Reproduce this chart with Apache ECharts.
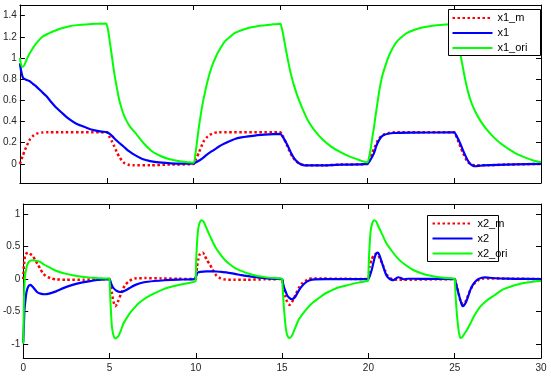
<!DOCTYPE html>
<html><head><meta charset="utf-8">
<script src="https://cdn.jsdelivr.net/npm/echarts@6/dist/echarts.min.js"></script>
<style>html,body{margin:0;padding:0;background:#fff}#c{width:551px;height:377px}</style>
</head><body><div id="c"></div>
<script>
// ---- tick labels ----
const xTicks = [0, 5, 10, 15, 20, 25, 30];
const yTicksTop = [0, 0.2, 0.4, 0.6, 0.8, 1, 1.2, 1.4];
const yTicksBottom = [-1, -0.5, 0, 0.5, 1];
const namesTop = ['x1_m', 'x1', 'x1_ori'];
const namesBottom = ['x2_m', 'x2', 'x2_ori'];

// ---- series values [t, value] ----
const x1_m = [[0,0],[0.15,0.07],[0.3,0.135],[0.57,0.23],[0.8,0.27],[1.0,0.288],[1.3,0.297],[1.6,0.3],[5,0.3],[5.14,0.26],[5.29,0.215],[5.43,0.166],[5.57,0.115],[5.71,0.07],[5.86,0.035],[6.0,0.01],[6.25,-0.008],[6.5,-0.013],[7.5,-0.013],[8.5,-0.006],[10,0],
 [10.15,0.05],[10.3,0.105],[10.57,0.21],[10.8,0.258],[10.95,0.276],[11.2,0.293],[11.45,0.3],[15,0.3],[15.1,0.275],[15.23,0.23],[15.38,0.175],[15.52,0.12],[15.7,0.065],[15.9,0.025],[16.1,0.002],[16.4,-0.013],[17.5,-0.013],[18.5,-0.006],[20,0],
 [20.15,0.05],[20.3,0.11],[20.6,0.22],[20.8,0.26],[21.0,0.28],[21.25,0.293],[21.5,0.3],[25,0.3],[25.1,0.27],[25.24,0.21],[25.38,0.155],[25.52,0.1],[25.66,0.05],[25.8,0.015],[26,-0.005],[26.2,-0.013],[27,-0.013],[28,-0.006],[30,0]];
const x1 = [[0,0.95],[0.08,0.87],[0.19,0.81],[0.35,0.795],[0.57,0.78],[0.75,0.755],[0.95,0.73],[1.2,0.69],[1.52,0.64],[1.8,0.585],[2.1,0.53],[2.5,0.47],[2.86,0.42],[3.25,0.38],[3.62,0.355],[4.0,0.33],[4.38,0.314],[4.7,0.305],[5,0.3],[5.15,0.285],[5.33,0.26],[5.5,0.23],[5.71,0.2],[6.0,0.16],[6.28,0.12],[6.6,0.085],[7.05,0.047],[7.5,0.027],[8,0.015],[9.14,0.003],[9.5,0.003],[10,0.005],
 [10.2,0.02],[10.47,0.047],[10.75,0.085],[11.05,0.12],[11.35,0.152],[11.62,0.18],[12,0.21],[12.38,0.236],[12.75,0.25],[13.14,0.26],[13.6,0.27],[14.1,0.276],[14.6,0.281],[15,0.283],[15.15,0.25],[15.33,0.2],[15.48,0.15],[15.62,0.1],[15.8,0.05],[16,0.015],[16.2,-0.005],[16.4,-0.013],[17.5,-0.013],[18.5,-0.007],[20,0],
 [20.15,0.03],[20.38,0.1],[20.52,0.17],[20.66,0.22],[20.8,0.255],[20.95,0.274],[21.2,0.285],[21.5,0.292],[22.5,0.295],[25,0.298],[25.15,0.26],[25.33,0.2],[25.48,0.14],[25.62,0.088],[25.76,0.04],[25.9,0.005],[26.05,-0.015],[26.24,-0.022],[26.45,-0.018],[26.66,-0.014],[27.5,-0.008],[28.5,-0.004],[30,0]];
const x1_ori = [[0,1.0],[0.06,0.94],[0.15,0.917],[0.25,0.93],[0.47,1.015],[0.7,1.08],[0.95,1.14],[1.3,1.2],[1.9,1.25],[2.4,1.28],[2.86,1.30],[3.3,1.31],[3.8,1.317],[4.4,1.322],[4.95,1.325],[5.03,1.3],[5.1,1.24],[5.24,1.08],[5.43,0.86],[5.57,0.73],[5.71,0.61],[5.9,0.5],[6.1,0.418],[6.35,0.35],[6.66,0.29],[7.1,0.2],[7.6,0.12],[8.1,0.075],[8.57,0.047],[9.2,0.025],[10,0.012],
 [10.1,0.09],[10.19,0.2],[10.28,0.32],[10.38,0.43],[10.5,0.55],[10.66,0.68],[10.85,0.81],[11.05,0.92],[11.25,1.0],[11.43,1.06],[11.8,1.157],[12.1,1.2],[12.38,1.236],[12.75,1.262],[13.14,1.283],[13.6,1.298],[14.1,1.308],[14.5,1.316],[15,1.324],
 [15.06,1.29],[15.14,1.236],[15.28,1.11],[15.43,0.98],[15.6,0.85],[15.8,0.73],[16.05,0.61],[16.38,0.48],[16.65,0.39],[16.95,0.32],[17.4,0.235],[17.9,0.166],[18.4,0.115],[18.86,0.078],[19.4,0.045],[20,0.015],
 [20.1,0.06],[20.2,0.15],[20.3,0.26],[20.38,0.34],[20.47,0.45],[20.57,0.56],[20.7,0.7],[20.86,0.83],[21.05,0.93],[21.23,1.015],[21.45,1.09],[21.71,1.157],[22,1.2],[22.29,1.236],[22.65,1.262],[23.05,1.283],[23.5,1.297],[24,1.308],[24.5,1.315],[25,1.32],
 [25.06,1.28],[25.15,1.2],[25.33,1.06],[25.48,0.93],[25.62,0.81],[25.8,0.68],[26,0.575],[26.2,0.5],[26.47,0.418],[26.8,0.34],[27.23,0.26],[27.7,0.19],[28.19,0.135],[28.65,0.09],[29.14,0.057],[29.6,0.03],[30,0.015]];

const x2_m = [[0,0],[0.04,0.2],[0.1,0.35],[0.2,0.4],[0.29,0.41],[0.4,0.39],[0.57,0.35],[0.7,0.29],[0.86,0.22],[1.0,0.15],[1.14,0.09],[1.3,0.05],[1.43,0.03],[1.65,0.008],[1.9,-0.005],[2.5,-0.012],[3.5,-0.01],[4.5,-0.003],[5,0],
 [5.05,-0.07],[5.14,-0.22],[5.23,-0.35],[5.33,-0.42],[5.43,-0.39],[5.52,-0.33],[5.66,-0.23],[5.8,-0.14],[5.95,-0.08],[6.1,-0.04],[6.3,-0.005],[6.48,0.01],[7.05,0.015],[8,0.01],[9,0.004],[10,0],
 [10.03,0.08],[10.07,0.19],[10.14,0.3],[10.2,0.37],[10.4,0.41],[10.52,0.36],[10.65,0.29],[10.8,0.23],[10.93,0.17],[11.05,0.11],[11.2,0.05],[11.4,0.015],[11.6,-0.005],[12.2,-0.012],[13,-0.01],[14,-0.004],[15,0],
 [15.04,-0.07],[15.1,-0.17],[15.2,-0.28],[15.29,-0.35],[15.42,-0.4],[15.56,-0.36],[15.68,-0.3],[15.82,-0.22],[15.96,-0.14],[16.15,-0.07],[16.34,-0.03],[16.52,0.0],[16.72,0.01],[17.3,0.008],[18.5,0.004],[20,0],
 [20.03,0.08],[20.07,0.19],[20.18,0.3],[20.32,0.37],[20.45,0.39],[20.55,0.38],[20.68,0.31],[20.8,0.24],[20.95,0.14],[21.09,0.06],[21.25,0.015],[21.4,-0.005],[21.8,-0.012],[22.5,-0.01],[24,-0.003],[25,0],
 [25.05,-0.05],[25.14,-0.12],[25.24,-0.24],[25.33,-0.33],[25.49,-0.39],[25.6,-0.36],[25.71,-0.3],[25.85,-0.2],[26,-0.12],[26.2,-0.05],[26.38,-0.015],[26.6,0.005],[27,0.01],[28,0.006],[30,0]];
const x2 = [[0,-0.98],[0.04,-0.7],[0.07,-0.48],[0.13,-0.32],[0.19,-0.2],[0.3,-0.11],[0.42,-0.09],[0.55,-0.12],[0.8,-0.2],[1.0,-0.225],[1.24,-0.235],[1.5,-0.225],[1.9,-0.19],[2.32,-0.14],[2.86,-0.09],[3.3,-0.06],[3.8,-0.035],[4.3,-0.015],[4.76,-0.005],[5,0],
 [5.07,-0.05],[5.14,-0.1],[5.23,-0.14],[5.4,-0.18],[5.6,-0.2],[5.8,-0.19],[6.0,-0.165],[6.25,-0.125],[6.5,-0.09],[7.0,-0.05],[7.6,-0.03],[8.2,-0.018],[9,-0.008],[9.9,0],
 [10.03,0.05],[10.07,0.09],[10.15,0.105],[10.26,0.11],[10.6,0.118],[10.93,0.12],[11.2,0.117],[11.5,0.11],[11.9,0.095],[12.26,0.08],[12.65,0.06],[13.03,0.045],[13.6,0.025],[14.1,0.012],[14.6,0.004],[15,0],
 [15.05,-0.06],[15.1,-0.12],[15.2,-0.19],[15.29,-0.25],[15.42,-0.29],[15.55,-0.31],[15.66,-0.3],[15.77,-0.27],[15.9,-0.21],[16.06,-0.14],[16.25,-0.08],[16.43,-0.04],[16.65,-0.015],[16.9,-0.005],[17.5,0.0],[20,0],
 [20.08,0.05],[20.19,0.14],[20.28,0.24],[20.38,0.35],[20.47,0.4],[20.55,0.41],[20.64,0.37],[20.74,0.29],[20.86,0.19],[20.99,0.09],[21.1,0.035],[21.22,0.005],[21.35,-0.012],[21.46,-0.015],[21.6,0.01],[21.72,0.028],[21.85,0.02],[22.03,-0.003],[22.3,0.005],[23,0.004],[24,0.002],[25,0],
 [25.05,-0.05],[25.14,-0.14],[25.24,-0.24],[25.33,-0.33],[25.43,-0.41],[25.49,-0.42],[25.58,-0.39],[25.68,-0.34],[25.8,-0.25],[25.9,-0.17],[26.05,-0.09],[26.19,-0.04],[26.38,0.0],[26.57,0.02],[26.75,0.026],[27,0.02],[27.6,0.01],[28.5,0.004],[30,0]];
const x2_ori = [[0,-1.0],[0.02,-0.75],[0.04,-0.33],[0.07,-0.1],[0.1,0.04],[0.16,0.14],[0.23,0.22],[0.35,0.27],[0.51,0.29],[0.7,0.285],[0.95,0.27],[1.2,0.225],[1.52,0.18],[1.8,0.14],[2.1,0.11],[2.5,0.08],[2.86,0.06],[3.3,0.04],[3.8,0.026],[4.3,0.016],[4.7,0.01],[4.95,0.008],
 [5.0,0.005],[5.05,-0.33],[5.1,-0.58],[5.14,-0.74],[5.22,-0.86],[5.33,-0.92],[5.45,-0.9],[5.52,-0.88],[5.65,-0.8],[5.8,-0.69],[6.0,-0.6],[6.2,-0.52],[6.42,-0.45],[6.66,-0.38],[6.95,-0.32],[7.23,-0.27],[7.6,-0.22],[8.0,-0.17],[8.57,-0.12],[9.2,-0.08],[9.6,-0.06],[9.94,-0.04],
 [9.99,-0.03],[10.02,0.29],[10.07,0.55],[10.13,0.76],[10.22,0.87],[10.32,0.91],[10.45,0.89],[10.6,0.8],[10.74,0.71],[10.9,0.62],[11.12,0.5],[11.4,0.39],[11.7,0.29],[12.0,0.22],[12.3,0.165],[12.6,0.13],[13.03,0.085],[13.5,0.05],[14.1,0.026],[14.6,0.015],[14.95,0.01],
 [15.0,0.005],[15.05,-0.22],[15.1,-0.43],[15.16,-0.62],[15.23,-0.79],[15.3,-0.87],[15.39,-0.91],[15.5,-0.9],[15.58,-0.87],[15.75,-0.76],[15.96,-0.63],[16.25,-0.52],[16.53,-0.43],[16.8,-0.36],[17.1,-0.3],[17.4,-0.24],[17.67,-0.2],[17.9,-0.17],[18.25,-0.13],[18.86,-0.09],[19.4,-0.055],[19.95,-0.03],
 [19.99,-0.025],[20.02,0.25],[20.07,0.52],[20.13,0.74],[20.22,0.86],[20.33,0.91],[20.45,0.89],[20.6,0.8],[20.8,0.69],[21.05,0.55],[21.37,0.43],[21.7,0.32],[22.13,0.22],[22.6,0.14],[23.1,0.085],[23.6,0.05],[24.2,0.025],[24.9,0.01],
 [25.0,0.005],[25.05,-0.25],[25.1,-0.45],[25.14,-0.58],[25.22,-0.78],[25.33,-0.91],[25.42,-0.9],[25.5,-0.87],[25.7,-0.79],[25.9,-0.69],[26.15,-0.56],[26.47,-0.43],[26.86,-0.33],[27.3,-0.25],[27.8,-0.16],[28.3,-0.11],[28.75,-0.077],[29.3,-0.05],[29.9,-0.03],[30,-0.03]];

// ---- chart ----
const FONT = '"Liberation Sans", Arial, sans-serif';
const chart = echarts.init(document.getElementById('c'), null, {renderer: 'canvas'});

function xAx(gi, pos, showLabel) {
  return {type: 'value', gridIndex: gi, position: pos, min: 0, max: 30,
    axisLine: {show: true, onZero: false, lineStyle: {color: '#000', width: 1}},
    axisTick: {show: true, inside: true, length: 5, customValues: xTicks, lineStyle: {color: '#000'}},
    axisLabel: {show: showLabel, margin: 5, fontSize: 10, color: '#262626', fontFamily: FONT, customValues: xTicks},
    splitLine: {show: false}};
}
function yAx(gi, pos, min, max, ticks, showLabel) {
  return {type: 'value', gridIndex: gi, position: pos, min: min, max: max,
    axisLine: {show: true, onZero: false, lineStyle: {color: '#000', width: 1}},
    axisTick: {show: true, inside: true, length: 5, customValues: ticks, lineStyle: {color: '#000'}},
    axisLabel: {show: showLabel, margin: 3, fontSize: 10, color: '#262626', fontFamily: FONT, customValues: ticks,
      formatter: v => String(v)},
    splitLine: {show: false}};
}
const styles = [
  {color: '#ff0000', width: 2.5, type: [2.5, 2.5]},
  {color: '#0000ff', width: 2.2, type: 'solid'},
  {color: '#00ff00', width: 2, type: 'solid'}
];
function ser(name, data, k, xi, yi) {
  const s = styles[k];
  return {name: name, type: 'line', data: data, xAxisIndex: xi, yAxisIndex: yi,
    symbol: 'none', showSymbol: false, smooth: 0.2, clip: true,
    lineStyle: {color: s.color, width: s.width, type: s.type, cap: 'butt'},
    itemStyle: {color: s.color}, z: 2};
}
function leg(names, left, top) {
  return {data: names, orient: 'vertical', left: left, top: top, padding: 0,
    itemWidth: 40, itemHeight: 12, itemGap: 3, selectedMode: false, z: 12,
    itemStyle: {opacity: 0},
    textStyle: {fontSize: 11, fontFamily: FONT, color: '#000', lineHeight: 12}};
}

chart.setOption({
  animation: false,
  backgroundColor: '#fff',
  grid: [
    {left: 16, top: 5, width: 525, height: 178},
    {left: 16, top: 204, width: 525, height: 154}
  ],
  xAxis: [xAx(0, 'bottom', false), xAx(0, 'top', false), xAx(1, 'bottom', true), xAx(1, 'top', false)],
  yAxis: [yAx(0, 'left', -0.18, 1.5, yTicksTop, true), yAx(0, 'right', -0.18, 1.5, yTicksTop, false),
          yAx(1, 'left', -1.22, 1.16, yTicksBottom, true), yAx(1, 'right', -1.22, 1.16, yTicksBottom, false)],
  legend: [leg(namesTop, 451.5, 12), leg(namesBottom, 431.5, 217.5)],
  graphic: [
    {type: 'rect', z: 10, shape: {x: 448.5, y: 9.5, width: 92, height: 46}, style: {fill: '#fff', stroke: '#000', lineWidth: 1}},
    {type: 'rect', z: 10, shape: {x: 427.5, y: 215.5, width: 71, height: 46}, style: {fill: '#fff', stroke: '#000', lineWidth: 1}}
  ],
  series: [
    ser('x1_m', x1_m, 0, 0, 0), ser('x1', x1, 1, 0, 0), ser('x1_ori', x1_ori, 2, 0, 0),
    ser('x2_m', x2_m, 0, 2, 2), ser('x2', x2, 1, 2, 2), ser('x2_ori', x2_ori, 2, 2, 2)
  ]
});
</script></body></html>
